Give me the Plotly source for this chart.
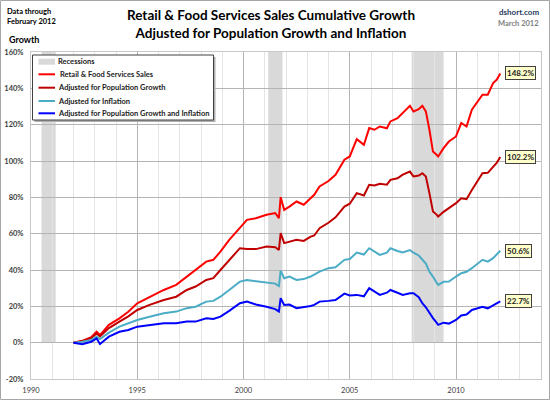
import plotly.graph_objects as go

# ---------------- data ----------------
dates = ["1992-01-01", "1992-06-01", "1992-11-01", "1993-02-01", "1993-04-01",
         "1993-09-01", "1994-03-01", "1994-08-01", "1995-01-01", "1995-08-01",
         "1996-04-01", "1996-11-01", "1997-05-01", "1997-10-01", "1998-04-01",
         "1998-08-01", "1998-12-01", "1999-05-01", "1999-11-01", "2000-03-01",
         "2000-08-01", "2001-02-01", "2001-07-01", "2001-09-01", "2001-10-01",
         "2001-12-01", "2002-03-01", "2002-07-01", "2002-11-01", "2003-03-01",
         "2003-05-01", "2003-08-01", "2004-01-01", "2004-05-01", "2004-10-01",
         "2005-01-01", "2005-05-01", "2005-09-01", "2005-12-01", "2006-03-01",
         "2006-06-01", "2006-10-01", "2006-12-01", "2007-04-01", "2007-07-01",
         "2007-11-01", "2008-01-01", "2008-04-01", "2008-06-01", "2008-08-01",
         "2008-10-01", "2008-12-01", "2009-02-01", "2009-03-01", "2009-06-01",
         "2009-09-01", "2010-01-01", "2010-04-01", "2010-07-01", "2010-10-01",
         "2011-04-01", "2011-07-01", "2011-10-01", "2011-12-01", "2012-02-01"]

retail = [0, 1, 3, 6, 4.2, 9.8, 13.4, 17, 21.7, 25.3,
          29, 31.8, 36.4, 40, 44.6, 45.6, 50.1, 56.6, 63, 67.6,
          68.5, 70.4, 71.3, 68.5, 80.1, 73.1, 74.9, 77.7, 75.9, 79.6,
          81.4, 86, 89, 92.4, 100.7, 102.5, 112, 108.9, 118.1, 117.2,
          119, 118, 121.8, 123.6, 126.4, 130.4, 127.3, 128.5, 130.4, 127.3,
          117.2, 105.2, 103.4, 102.5, 107.1, 110.7, 113.5, 120.9, 119, 128.2,
          136.5, 136.5, 142.9, 144.7, 148.2]

pop_adj = [0, 0.8, 2.5, 5, 3.5, 8, 11.6, 14.5, 18, 20.8,
           23.5, 25.3, 29, 30.9, 34.5, 35.5, 40, 45.6, 52, 51.5,
           51.5, 52.9, 52.5, 51, 60.3, 54.8, 55.5, 56.6, 56, 58.4,
           59, 63, 66, 69, 74.9, 76.5, 82.3, 81, 86.9, 86.5,
           87.5, 87, 89.6, 90.5, 92.5, 94.2, 91.5, 92, 93.3, 91.5,
           82.3, 72.2, 70.5, 69.4, 72, 74, 76.8, 79.5, 79, 84,
           93.3, 93.5, 97, 99, 102.2]

infl_adj = [0, 0.5, 1.5, 3.3, 2, 5.5, 8.8, 10.5, 12.5, 14.3,
            16.2, 17.1, 19, 19.8, 22.6, 23, 25.3, 29, 33.6, 34.5,
            34, 33.1, 32.5, 31.2, 39.7, 35.5, 36.4, 34.5, 35, 36.4,
            37.5, 39.1, 41, 41.5, 45.6, 46, 49.6, 48.5, 52, 50,
            48.3, 49.5, 52, 50.5, 49.6, 51, 49.5, 48, 46, 43.5,
            39, 36.4, 33, 31.8, 33.5, 33.6, 36.4, 38.2, 39, 41,
            45.6, 44.6, 46.5, 48.5, 50.6]

both_adj = [0, -0.8, 0.5, 2.4, -0.7, 3.3, 6, 7, 8.8, 9.8,
            10.7, 10.7, 11.6, 11.6, 13.4, 13, 14.3, 17.5, 21.7, 22.6,
            21, 19.8, 18.5, 17.1, 24.5, 20.8, 21, 19, 19.5, 20.2,
            20.8, 22.6, 23, 23.5, 27, 26, 26.3, 25.5, 30, 28,
            26.3, 27.5, 29, 27.5, 26.3, 27.2, 27.2, 25, 21.7, 19.5,
            16.2, 13.5, 11, 9.8, 11, 10.5, 12.5, 15, 15.5, 18,
            19.8, 18.9, 20.5, 21.5, 22.7]

series_names = ["Retail & Food Services Sales", "Adjusted for Population Growth",
                "Adjusted for Inflation", "Adjusted for Population Growth and Inflation"]
series_colors = ["#FF0000", "#C00000", "#4BACC6", "#0000FF"]

recession_start = ["1990-07-01", "2001-03-01", "2007-12-01"]
recession_end = ["1991-03-01", "2001-11-01", "2009-06-01"]

x_tick_vals = ["1990-01-01", "1995-01-01", "2000-01-01", "2005-01-01", "2010-01-01"]
x_tick_text = ["1990", "1995", "2000", "2005", "2010"]
y_tick_vals = [-20, 0, 20, 40, 60, 80, 100, 120, 140, 160]
y_tick_text = [f"{v}%" for v in y_tick_vals]

# ---------------- figure ----------------
W, H = 550, 400
ML, MR, MT, MB = 31, 9, 52, 21
PW, PH = W - ML - MR, H - MT - MB
FONT = "Lato"


def px(x):
    return (x - ML) / PW


def py(y):
    return (H - MB - y) / PH


fig = go.Figure()

all_series = [retail, pop_adj, infl_adj, both_adj]
for vals, name, col in zip(all_series, series_names, series_colors):
    fig.add_trace(go.Scatter(x=dates, y=vals, mode="lines", name=name,
                             line=dict(color=col, width=2), showlegend=False))

shapes = []
for s, e in zip(recession_start, recession_end):
    shapes.append(dict(type="rect", xref="x", yref="y", x0=s, x1=e, y0=0, y1=160,
                       fillcolor="#D9D9D9", line=dict(width=0), layer="below"))

# outer border of the picture
shapes.append(dict(type="rect", xref="paper", yref="paper",
                   x0=px(0.5), x1=px(W - 0.5), y0=py(H - 0.5), y1=py(0.5),
                   line=dict(color="#A6A6A6", width=1), fillcolor="rgba(0,0,0,0)"))

# manual legend
LX0, LX1, LY0, LY1 = 32.5, 213.5, 55, 120
shapes.append(dict(type="rect", xref="paper", yref="paper",
                   x0=px(LX0 + 2), x1=px(LX1 + 2), y0=py(LY1 + 2), y1=py(LY0 + 2),
                   line=dict(width=0), fillcolor="#B0B0B0"))
shapes.append(dict(type="rect", xref="paper", yref="paper",
                   x0=px(LX0), x1=px(LX1), y0=py(LY1), y1=py(LY0),
                   line=dict(color="#404040", width=1), fillcolor="white"))
legend_rows = [("Recessions", "#D9D9D9", 6, 61.7)] + [
    (n, c, 2, yy) for n, c, yy in zip(series_names, series_colors, [74.3, 87.7, 101, 113.3])]
annotations = []
for i, (name, col, w, yy) in enumerate(legend_rows):
    shapes.append(dict(type="line", xref="paper", yref="paper",
                       x0=px(38.5), x1=px(55), y0=py(yy), y1=py(yy),
                       line=dict(color=col, width=w)))
    annotations.append(dict(xref="paper", yref="paper", x=px(58.3 if i == 1 else 56), y=py(yy),
                            text=name, showarrow=False, xanchor="left", yanchor="middle",
                            font=dict(family=FONT, size=7.5, color="#1A1A1A", weight="bold")))

# end value labels
for vals in all_series:
    txt = f"{vals[-1]:.1f}%"
    annotations.append(dict(x=dates[-1], y=vals[-1], xref="x", yref="y", text=txt,
                            showarrow=False, xanchor="left", yanchor="middle",
                            xshift=5, bgcolor="#FFFFCC", bordercolor="#404040",
                            borderwidth=1, borderpad=1,
                            font=dict(family=FONT, size=8, color="#1A1A1A", weight="bold")))

# header texts
annotations += [
    dict(xref="paper", yref="paper", x=px(271), y=py(24), xanchor="center", yanchor="middle",
         text="Retail & Food Services Sales Cumulative Growth<br>Adjusted for Population Growth and Inflation",
         showarrow=False, font=dict(family=FONT, size=13.5, color="#000000", weight="bold")),
    dict(xref="paper", yref="paper", x=px(5), y=py(16), xanchor="left", yanchor="middle",
         text="Data through<br>February 2012", showarrow=False, align="left",
         font=dict(family=FONT, size=7.5, color="#000000", weight="bold")),
    dict(xref="paper", yref="paper", x=px(7), y=py(39), xanchor="left", yanchor="middle",
         text="Growth", showarrow=False,
         font=dict(family=FONT, size=9, color="#000000", weight="bold")),
    dict(xref="paper", yref="paper", x=px(541), y=py(12), xanchor="right", yanchor="middle",
         text="dshort.com", showarrow=False,
         font=dict(family=FONT, size=8, color="#1F3A60", weight="bold")),
    dict(xref="paper", yref="paper", x=px(541), y=py(24), xanchor="right", yanchor="middle",
         text="March 2012", showarrow=False,
         font=dict(family=FONT, size=7.5, color="#808080", weight="bold")),
]

fig.update_layout(
    width=W, height=H, margin=dict(l=ML, r=MR, t=MT, b=MB, pad=0, autoexpand=False),
    paper_bgcolor="white", plot_bgcolor="white",
    shapes=shapes, annotations=annotations, showlegend=False,
    xaxis=dict(type="date", range=["1990-01-01", "2014-01-01"], automargin=False,
               tickvals=x_tick_vals, ticktext=x_tick_text,
               showgrid=True, gridcolor="#B4B4B4", gridwidth=1,
               minor=dict(dtick="M12", tick0="1990-01-01", showgrid=True,
                          gridcolor="#E4E4E4", gridwidth=1),
               showline=True, mirror=True, linecolor="#C8C8C8", linewidth=1,
               ticks="", ticklabelstandoff=4, zeroline=False,
               tickfont=dict(family=FONT, size=7.5, color="#404040")),
    yaxis=dict(range=[-20, 160], tickvals=y_tick_vals, ticktext=y_tick_text, automargin=False,
               showgrid=True, gridcolor="#B4B4B4", gridwidth=1,
               showline=True, mirror=True, linecolor="#C8C8C8", linewidth=1,
               ticks="", ticklabelstandoff=5, zeroline=False,
               tickfont=dict(family=FONT, size=7.5, color="#404040", weight="bold")),
)

fig.write_html("out.html", config={"displayModeBar": False},
               post_script="document.body.style.margin='0';document.body.style.overflow='hidden';")
